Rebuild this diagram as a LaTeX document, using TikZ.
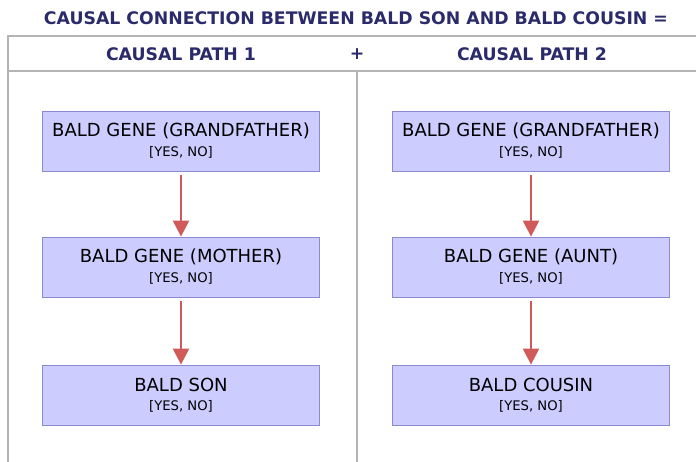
\documentclass[tikz,border=0pt]{standalone}
\usepackage{fontspec}
\setmainfont{DejaVu Sans}
\usetikzlibrary{arrows.meta}
\definecolor{navy}{HTML}{2B2B6B}
\definecolor{boxfill}{HTML}{CCCCFF}
\definecolor{boxline}{HTML}{8A8AD0}
\definecolor{arrowred}{HTML}{D05A5A}
\definecolor{rule}{HTML}{B4B4B4}
\tikzset{
  x=1pt, y=-1pt,
  genebox/.style={draw=boxline, fill=boxfill, line width=0.8pt, minimum width=277pt, minimum height=60pt, inner sep=0pt, text=black},
  causal/.style={draw=arrowred, line width=2.4pt, shorten <=4pt, -{Triangle[length=16pt, width=16pt]}},
  head/.style={text=navy, font=\bfseries\fontsize{17.3}{18}\selectfont},
  rulel/.style={draw=rule, line width=1.5pt},
}
\newcommand{\gtxt}[1]{\parbox[c][36pt][t]{270pt}{\centering
  {\fontsize{18}{18}\selectfont\rule{0pt}{14pt}#1\par}
  {\fontsize{13.2}{19.5}\selectfont [YES, NO]\par}}}
\begin{document}
\begin{tikzpicture}
\useasboundingbox (0,0) rectangle (696,462);
\fill[white] (0,0) rectangle (696,462);
\node[head] (title) at (356,18) {CAUSAL CONNECTION BETWEEN BALD SON AND BALD COUSIN =};
\node[head] (p1) at (181,54) {CAUSAL PATH 1};
\node[head] (plus) at (357,54) {+};
\node[head] (p2) at (532,54) {CAUSAL PATH 2};
\coordinate (tl) at (8,36);
\coordinate (tr) at (696,36);
\coordinate (ml) at (8,71);
\coordinate (mr) at (696,71);
\coordinate (bl) at (8,462);
\coordinate (dt) at (357,71);
\coordinate (db) at (357,462);
\draw[rulel] (tr) -- (tl) -- (bl);
\draw[rulel] (ml) -- (mr);
\draw[rulel] (dt) -- (db);
\node[genebox] (a1) at (181,141) {\gtxt{BALD GENE (GRANDFATHER)}};
\node[genebox] (a2) at (181,267) {\gtxt{BALD GENE (MOTHER)}};
\node[genebox] (a3) at (181,395) {\gtxt{BALD SON}};
\node[genebox] (b1) at (531,141) {\gtxt{BALD GENE (GRANDFATHER)}};
\node[genebox] (b2) at (531,267) {\gtxt{BALD GENE (AUNT)}};
\node[genebox] (b3) at (531,395) {\gtxt{BALD COUSIN}};
\draw[causal] (a1) -- (a2);
\draw[causal] (a2) -- (a3);
\draw[causal] (b1) -- (b2);
\draw[causal] (b2) -- (b3);
\end{tikzpicture}
\end{document}
